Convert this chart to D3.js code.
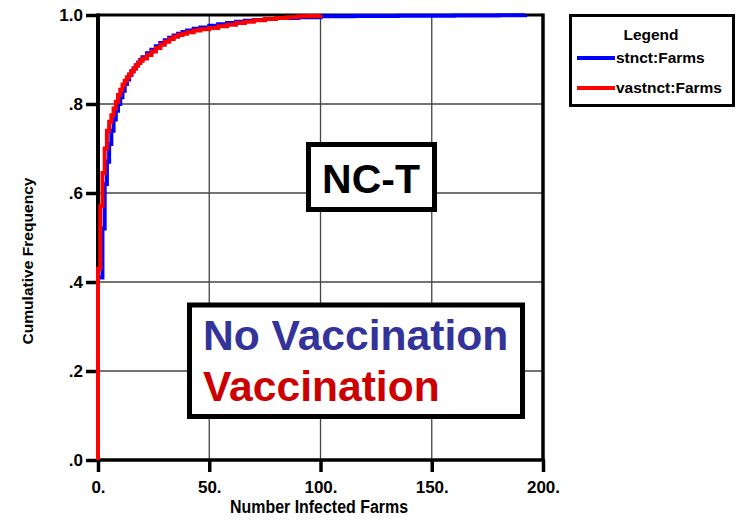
<!DOCTYPE html>
<html>
<head>
<meta charset="utf-8">
<script src="https://cdn.jsdelivr.net/npm/d3@7"></script>
<style>
  html, body { margin: 0; padding: 0; background: #fff; }
  svg { display: block; }
</style>
</head>
<body>
<svg id="chart" width="737" height="522"></svg>
<script>
// ---- data ----
const xTicks = [0, 50, 100, 150, 200];
const xTickLabels = ["0.", "50.", "100.", "150.", "200."];
const yTicks = [0, 0.2, 0.4, 0.6, 0.8, 1.0];
const yTickLabels = [".0", ".2", ".4", ".6", ".8", "1.0"];

// stnct:Farms (No Vaccination) – cumulative frequency vs number infected farms
const blueX = [0, 0, 2, 3, 4, 5, 6, 7, 8, 9, 10, 11, 12, 13, 14, 15, 16, 17, 18, 19, 20, 22, 24, 26, 28, 30, 32, 34, 36, 38, 40, 43, 46, 50, 54, 58, 62, 66, 70, 75, 80, 90, 100, 115, 135, 160, 180, 192];
const blueY = [0, 0.41, 0.52, 0.62, 0.67, 0.71, 0.74, 0.765, 0.785, 0.80, 0.815, 0.83, 0.845, 0.855, 0.865, 0.873, 0.88, 0.887, 0.893, 0.899, 0.905, 0.914, 0.922, 0.93, 0.937, 0.943, 0.949, 0.954, 0.958, 0.962, 0.965, 0.969, 0.972, 0.976, 0.979, 0.982, 0.985, 0.987, 0.989, 0.991, 0.993, 0.995, 0.997, 0.998, 0.9985, 0.999, 0.9995, 1.0];

// vastnct:Farms (Vaccination)
const redX = [0, 0, 1, 2, 3, 4, 5, 6, 7, 8, 9, 10, 11, 12, 13, 14, 15, 16, 17, 18, 19, 20, 22, 24, 26, 28, 30, 32, 34, 36, 38, 40, 43, 46, 50, 54, 58, 62, 66, 70, 75, 80, 85, 90, 95, 100];
const redY = [0, 0.43, 0.57, 0.645, 0.70, 0.74, 0.76, 0.775, 0.79, 0.805, 0.82, 0.832, 0.843, 0.852, 0.86, 0.867, 0.874, 0.88, 0.886, 0.892, 0.897, 0.902, 0.91, 0.918, 0.926, 0.933, 0.94, 0.946, 0.951, 0.955, 0.958, 0.961, 0.965, 0.968, 0.971, 0.975, 0.978, 0.982, 0.985, 0.988, 0.991, 0.993, 0.995, 0.997, 0.998, 1.0];

const seriesNames = ["stnct:Farms", "vastnct:Farms"];
const seriesColors = ["#0000ff", "#ff0000"];

// ---- layout ----
const svg = d3.select("#chart");
const x = d3.scaleLinear().domain([0, 200]).range([98, 543]);
const y = d3.scaleLinear().domain([0, 1]).range([460, 15]);
const boldFont = "'Liberation Sans', Arial, Helvetica, sans-serif";
const narrowFont = "'Liberation Sans Narrow', 'Arial Narrow', 'Liberation Sans', Arial, sans-serif";

// grid lines
svg.append("g").selectAll("line.vg")
  .data([50, 100, 150])
  .join("line")
  .attr("x1", d => x(d)).attr("x2", d => x(d))
  .attr("y1", y(0)).attr("y2", y(1))
  .attr("stroke", "#444").attr("stroke-width", 1.3);
svg.append("g").selectAll("line.hg")
  .data([0.2, 0.4, 0.6, 0.8])
  .join("line")
  .attr("x1", x(0)).attr("x2", x(200))
  .attr("y1", d => y(d)).attr("y2", d => y(d))
  .attr("stroke", "#444").attr("stroke-width", 1.3);

// frame
svg.append("line").attr("x1", x(0)).attr("x2", x(200)).attr("y1", y(1)).attr("y2", y(1))
  .attr("stroke", "#000").attr("stroke-width", 3);
svg.append("line").attr("x1", x(200)).attr("x2", x(200)).attr("y1", y(1) - 1.5).attr("y2", y(0))
  .attr("stroke", "#000").attr("stroke-width", 3.5);

// axes
const xAxis = d3.axisBottom(x).tickValues(xTicks)
  .tickFormat((d, i) => xTickLabels[i]).tickSize(12).tickPadding(9);
const gx = svg.append("g").attr("transform", `translate(0,${y(0)})`).call(xAxis);
gx.select(".domain").attr("stroke", "#000").attr("stroke-width", 3.5)
  .attr("d", `M${x(0) - 1.5},0H${x(200) + 1.75}`);
gx.selectAll(".tick line").attr("stroke", "#000").attr("stroke-width", 3.5);
gx.selectAll(".tick text").attr("font-family", narrowFont).attr("font-weight", "bold")
  .attr("font-size", 17).attr("fill", "#000").attr("dy", "0.71em");

const yAxis = d3.axisLeft(y).tickValues(yTicks)
  .tickFormat((d, i) => yTickLabels[i]).tickSize(12).tickPadding(3);
const gy = svg.append("g").attr("transform", `translate(${x(0)},0)`).call(yAxis);
gy.select(".domain").attr("stroke", "#000").attr("stroke-width", 4)
  .attr("d", `M0,${y(0)}V${y(1) - 1.5}`);
gy.selectAll(".tick line").attr("stroke", "#000").attr("stroke-width", 3.5);
gy.selectAll(".tick text").attr("font-family", narrowFont).attr("font-weight", "bold")
  .attr("font-size", 17).attr("fill", "#000");

// axis titles
svg.append("text")
  .attr("x", 319).attr("y", 513).attr("text-anchor", "middle")
  .attr("font-family", narrowFont).attr("font-weight", "bold").attr("font-size", 18)
  .attr("textLength", 178).attr("lengthAdjust", "spacingAndGlyphs")
  .text("Number Infected Farms");
svg.append("text")
  .attr("transform", "translate(33,261) rotate(-90)").attr("text-anchor", "middle")
  .attr("font-family", narrowFont).attr("font-weight", "bold").attr("font-size", 15)
  .attr("textLength", 167).attr("lengthAdjust", "spacingAndGlyphs")
  .text("Cumulative Frequency");

// curves
const line = d3.line().x(d => x(d[0])).y(d => y(d[1])).curve(d3.curveStepAfter);
const blueData = blueX.map((v, i) => [v, blueY[i]]);
const redData = redX.map((v, i) => [v, redY[i]]);
svg.append("path").datum(blueData).attr("d", line)
  .attr("fill", "none").attr("stroke", seriesColors[0]).attr("stroke-width", 4);
svg.append("path").datum(redData).attr("d", line)
  .attr("fill", "none").attr("stroke", seriesColors[1]).attr("stroke-width", 4);

// NC-T box
svg.append("rect").attr("x", 308.5).attr("y", 144.5).attr("width", 126).attr("height", 65)
  .attr("fill", "#fff").attr("stroke", "#000").attr("stroke-width", 5);
svg.append("text").attr("x", 371).attr("y", 193).attr("text-anchor", "middle")
  .attr("font-family", boldFont).attr("font-weight", "bold").attr("font-size", 41)
  .attr("fill", "#000").text("NC-T");

// Vaccination box
svg.append("rect").attr("x", 189.5).attr("y", 305).attr("width", 333).attr("height", 111.5)
  .attr("fill", "#fff").attr("stroke", "#000").attr("stroke-width", 5);
svg.append("text").attr("x", 203).attr("y", 350)
  .attr("font-family", boldFont).attr("font-weight", "bold").attr("font-size", 42.6)
  .attr("fill", "#333399").text("No Vaccination");
svg.append("text").attr("x", 203).attr("y", 401)
  .attr("font-family", boldFont).attr("font-weight", "bold").attr("font-size", 42.6)
  .attr("fill", "#cc0000").text("Vaccination");

// legend
const lg = svg.append("g");
lg.append("rect").attr("x", 570.5).attr("y", 15.5).attr("width", 163).attr("height", 90)
  .attr("fill", "#fff").attr("stroke", "#000").attr("stroke-width", 3);
lg.append("text").attr("x", 651).attr("y", 40).attr("text-anchor", "middle")
  .attr("font-family", boldFont).attr("font-weight", "bold").attr("font-size", 15.5)
  .text("Legend");
seriesNames.forEach((name, i) => {
  const yy = 58 + i * 30;
  lg.append("line").attr("x1", 577).attr("x2", 615).attr("y1", yy).attr("y2", yy)
    .attr("stroke", seriesColors[i]).attr("stroke-width", 4);
  lg.append("text").attr("x", 616).attr("y", yy + 5)
    .attr("font-family", boldFont).attr("font-weight", "bold").attr("font-size", 15.5)
    .text(name);
});
</script>
</body>
</html>
